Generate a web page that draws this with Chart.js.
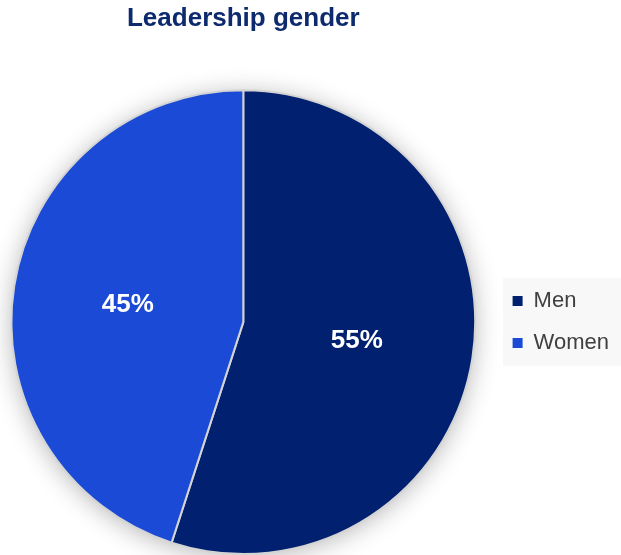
<!DOCTYPE html>
<html>
<head>
<meta charset="utf-8">
<script src="https://cdn.jsdelivr.net/npm/chart.js@4/dist/chart.umd.min.js"></script>
<style>
html,body{margin:0;padding:0;background:#fff;}
#wrap{width:621px;height:555px;position:relative;}
</style>
</head>
<body>
<div id="wrap"><canvas id="c" width="621" height="555"></canvas></div>
<script>
const titleText = "Leadership gender";
const categories = ["Men", "Women"];
const values = [55, 45];
const valueLabels = ["55%", "45%"];
const colors = ["#012070", "#1a4ad6"];

const shadowPlugin = {
  id: 'pieShadow',
  beforeDatasetsDraw(chart) {
    const arc = chart.getDatasetMeta(0).data[0];
    if (!arc) return;
    const ctx = chart.ctx;
    ctx.save();
    ctx.shadowColor = 'rgba(0,0,0,0.3)';
    ctx.shadowBlur = 26;
    ctx.shadowOffsetX = 0;
    ctx.shadowOffsetY = 3;
    ctx.beginPath();
    ctx.arc(arc.x, arc.y, arc.outerRadius - 1, 0, Math.PI * 2);
    ctx.fillStyle = '#ffffff';
    ctx.fill();
    ctx.restore();
  }
};

const labelPlugin = {
  id: 'sliceLabels',
  afterDatasetsDraw(chart) {
    const ctx = chart.ctx;
    const meta = chart.getDatasetMeta(0);
    ctx.save();
    ctx.fillStyle = '#ffffff';
    ctx.font = 'bold 26px "Liberation Sans", Arial, sans-serif';
    ctx.textAlign = 'center';
    ctx.textBaseline = 'middle';
    meta.data.forEach((arc, i) => {
      const p = arc.tooltipPosition();
      ctx.fillText(valueLabels[i], p.x - 1, p.y + 1);
    });
    ctx.restore();
  }
};

const legendShift = 6;
const legendPlugin = {
  id: 'legendTweak',
  afterLayout(chart) {
    if (chart.legend) { chart.legend.left += legendShift; }
  },
  beforeDraw(chart) {
    const lg = chart.legend;
    if (!lg || !lg.legendHitBoxes || !lg.legendHitBoxes.length) return;
    const hb = lg.legendHitBoxes;
    const top = hb[0].top - 12;
    const bottom = hb[hb.length - 1].top + hb[hb.length - 1].height + 12;
    const ctx = chart.ctx;
    ctx.save();
    ctx.fillStyle = '#f8f8f8';
    ctx.fillRect(503, top, chart.width - 503, bottom - top);
    ctx.restore();
  }
};

new Chart(document.getElementById('c'), {
  type: 'pie',
  data: {
    labels: categories,
    datasets: [{
      data: values,
      backgroundColor: colors,
      borderColor: '#d4d4d4',
      borderWidth: 2
    }]
  },
  options: {
    responsive: false,
    animation: false,
    layout: { padding: { left: 0, right: 8, top: 0, bottom: 0 } },
    plugins: {
      title: {
        display: true,
        text: titleText,
        fullSize: false,
        color: '#0d2a6e',
        font: { family: '"Liberation Sans", Arial, sans-serif', size: 26, weight: 'bold' },
        padding: { top: 3, bottom: 55 }
      },
      legend: {
        position: 'right',
        fullSize: false,
        labels: {
          boxWidth: 10,
          boxHeight: 10,
          padding: 20,
          color: '#404040',
          font: { family: '"Liberation Sans", Arial, sans-serif', size: 22 },
          generateLabels(chart) {
            const base = Chart.controllers.pie.overrides.plugins.legend.labels.generateLabels(chart);
            return base.map(l => Object.assign(l, { lineWidth: 0, strokeStyle: 'rgba(0,0,0,0)' }));
          }
        }
      },
      tooltip: { enabled: false }
    }
  },
  plugins: [shadowPlugin, labelPlugin, legendPlugin]
});
</script>
</body>
</html>
